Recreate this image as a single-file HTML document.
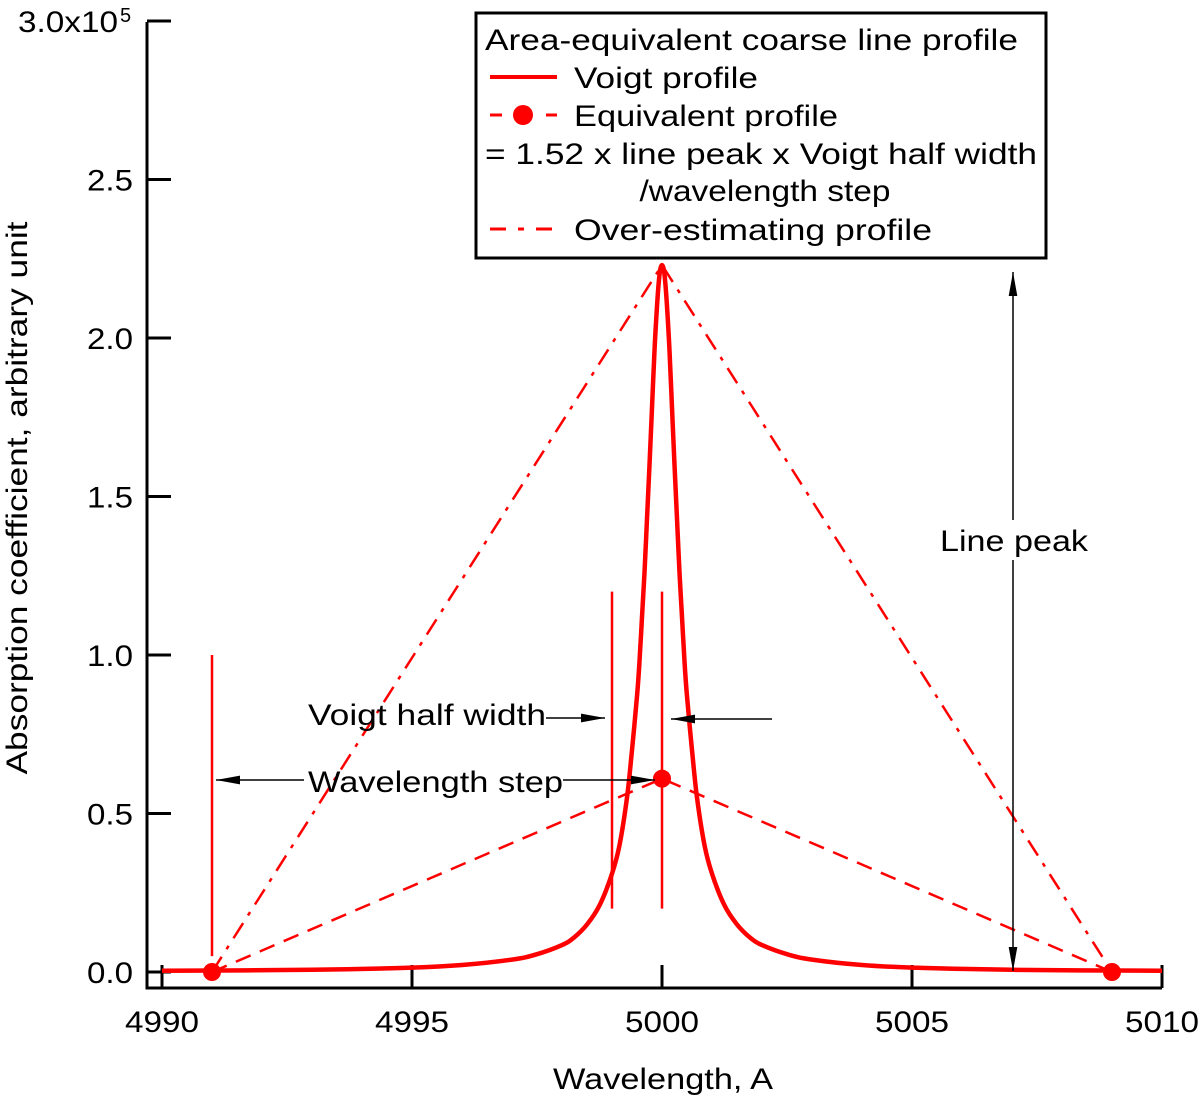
<!DOCTYPE html>
<html><head><meta charset="utf-8"><style>
html,body{margin:0;padding:0;background:#fff}
svg{display:block;font-family:"Liberation Sans","NanumGothic",sans-serif}
</style></head><body>
<svg id="chart" width="1200" height="1095" viewBox="0 0 1200 1095">
<defs>
<marker id="ah2" viewBox="0 0 10 10" refX="10" refY="5" markerWidth="24" markerHeight="24" markerUnits="userSpaceOnUse" orient="auto"><path d="M0,3.2 L10,5 L0,6.8 Z" fill="#000"/></marker>
</defs>
<g id="axes"></g>
<g id="marks"></g>
<g id="annot"></g>
<g id="legend"></g>
</svg>
<script>
const xTicks = [4990, 4995, 5000, 5005, 5010];
const yTicks = [0.0, 0.5, 1.0, 1.5, 2.0, 2.5, 3.0];
const yTickLabels = ["0.0", "0.5", "1.0", "1.5", "2.0", "2.5", "3.0x10"];
const voigtOffsets = [0, 0.05, 0.1, 0.15, 0.2, 0.25, 0.3, 0.35, 0.4, 0.45, 0.5, 0.6, 0.7, 0.85, 1, 1.25, 1.5, 1.75, 2, 2.5, 3, 4, 5, 7, 10];
const voigtValues = [2.23, 2.2, 2.1, 1.96, 1.78, 1.6, 1.43, 1.26, 1.12, 0.98, 0.87, 0.7, 0.55, 0.4, 0.31, 0.21, 0.15, 0.11, 0.085, 0.056, 0.039, 0.022, 0.014, 0.007, 0.004];
const lineCenter = 5000;
const equivX = [4991, 5000, 5009];
const equivY = [0, 0.61, 0];
const overX = [4991, 5000, 5009];
const overY = [0, 2.23, 0];

const X = v => 162 + (v - 4990) * 50;
const Y = v => 972 - v * 317;
const NS = "http://www.w3.org/2000/svg";
function mk(parent, tag, attrs, text) {
  const e = document.createElementNS(NS, tag);
  for (const k in attrs) e.setAttribute(k, attrs[k]);
  if (text !== undefined) e.textContent = text;
  document.getElementById(parent).appendChild(e);
  return e;
}
function txt(parent, x, y, s, size, len, anchor) {
  const a = {x: x, y: y, "font-size": size, "text-anchor": anchor || "start"};
  if (len) { a.textLength = len; a.lengthAdjust = "spacingAndGlyphs"; }
  return mk(parent, "text", a, s);
}
let e;
e = mk("axes", "path", {d: "M147,22 V988 H1162", fill: "none", stroke: "#000", "stroke-width": 3});


xTicks.forEach(t => {
  e = mk("axes", "line", {x1: X(t), x2: X(t), y1: 988, y2: 965, stroke: "#000", "stroke-width": 3});
  
  
  e = txt("axes", X(t), 1032, String(t), 30, 74, "middle");
  
  
});
yTicks.forEach((t, i) => {
  e = mk("axes", "line", {x1: 147, x2: 171, y1: Y(t), y2: Y(t), stroke: "#000", "stroke-width": 3});
  
  
  e = txt("axes", i === 6 ? 118 : 133, Y(t) + 11, yTickLabels[i], 30, i === 6 ? 100 : 46, "end");
  
  
});
e = txt("axes", 120, 22, "5", 20);


e = txt("axes", 663, 1089, "Wavelength, A", 30, 220, "middle");


e = mk("axes", "text", {x: 0, y: 0, "text-anchor": "middle", "font-size": 30, textLength: 553, lengthAdjust: "spacingAndGlyphs", transform: "translate(27,498) rotate(-90)"}, "Absorption coefficient, arbitrary unit");



[[4991, 0.05, 1.0], [4999, 0.2, 1.2], [5000, 0.2, 1.2]].forEach(v => {
  e = mk("marks", "line", {x1: X(v[0]), x2: X(v[0]), y1: Y(v[1]), y2: Y(v[2]), stroke: "#f00", "stroke-width": 2.5});
  
  
});
e = mk("marks", "polyline", {points: overX.map((x, i) => X(x) + "," + Y(overY[i])).join(" "), fill: "none", stroke: "#f00", "stroke-width": 2.5, "stroke-dasharray": "18,9,4,9"});


e = mk("marks", "polyline", {points: equivX.map((x, i) => X(x) + "," + Y(equivY[i])).join(" "), fill: "none", stroke: "#f00", "stroke-width": 2.5, "stroke-dasharray": "16,10"});


const pts = [];
for (let i = voigtOffsets.length - 1; i > 0; i--) pts.push([X(lineCenter - voigtOffsets[i]), Y(voigtValues[i])]);
for (let i = 0; i < voigtOffsets.length; i++) pts.push([X(lineCenter + voigtOffsets[i]), Y(voigtValues[i])]);
let d = "M" + pts[0][0] + "," + pts[0][1];
for (let i = 0; i < pts.length - 1; i++) {
  const p0 = pts[Math.max(0, i - 1)], p1 = pts[i], p2 = pts[i + 1], p3 = pts[Math.min(pts.length - 1, i + 2)];
  const c1 = [p1[0] + (p2[0] - p0[0]) / 6, p1[1] + (p2[1] - p0[1]) / 6];
  const c2 = [p2[0] - (p3[0] - p1[0]) / 6, p2[1] - (p3[1] - p1[1]) / 6];
  d += " C" + c1[0].toFixed(1) + "," + c1[1].toFixed(1) + " " + c2[0].toFixed(1) + "," + c2[1].toFixed(1) + " " + p2[0].toFixed(1) + "," + p2[1].toFixed(1);
}
e = mk("marks", "path", {d: d, fill: "none", stroke: "#f00", "stroke-width": 4.5, "stroke-linejoin": "round"});


equivX.forEach((x, i) => {
  e = mk("marks", "circle", {cx: X(x), cy: Y(equivY[i]), r: 9, fill: "#f00"});
  
  
});

function arrow(x1, y1, x2, y2, name) {
  e = mk("annot", "line", {x1, y1, x2, y2, stroke: "#000", "stroke-width": 1.5, "marker-end": "url(#ah2)"});
  
  
}
e = txt("annot", 308, 725, "Voigt half width", 30, 238);


arrow(546, 718, 605, 718, 'half-width-arrow-right');
arrow(772, 719, 671, 719, 'half-width-arrow-left');
e = txt("annot", 308, 792, "Wavelength step", 30, 255);


arrow(304, 780, 216, 780, 'step-arrow-left');
arrow(563, 780, 655, 780, 'step-arrow-right');
arrow(1013, 520, 1013, 272, 'line-peak-arrow-up');
arrow(1013, 560, 1013, 971, 'line-peak-arrow-down');
e = txt("annot", 1014, 551, "Line peak", 30, 148, "middle");



e = mk("legend", "rect", {x: 476, y: 13, width: 570, height: 245, fill: "#fff", stroke: "#000", "stroke-width": 3});


const lt = [[485, 50, "Area-equivalent coarse line profile", "start", 533], [574, 88, "Voigt profile", "start", 184], [574, 126, "Equivalent profile", "start", 264], [761, 164, "= 1.52 x line peak x Voigt half width", "middle", 552], [765, 201, "/wavelength step", "middle", 251], [574, 240, "Over-estimating profile", "start", 358]];
lt.forEach(t => {
  e = txt("legend", t[0], t[1], t[2], 30, t[4], t[3]);
  
  
});
e = mk("legend", "line", {x1: 490, x2: 557, y1: 77, y2: 77, stroke: "#f00", "stroke-width": 4});


e = mk("legend", "line", {x1: 490, x2: 557, y1: 115, y2: 115, stroke: "#f00", "stroke-width": 3, "stroke-dasharray": "12,44,12"});


e = mk("legend", "circle", {cx: 523, cy: 115, r: 10, fill: "#f00"});


e = mk("legend", "line", {x1: 490, x2: 557, y1: 229, y2: 229, stroke: "#f00", "stroke-width": 3, "stroke-dasharray": "16,12,6,12"});


</script>
</body></html>
